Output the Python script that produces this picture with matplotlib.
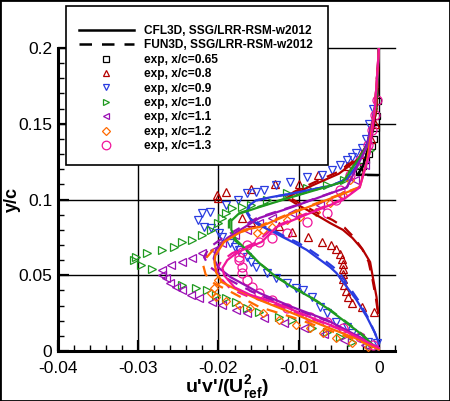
import matplotlib
matplotlib.use("Agg")
import matplotlib.pyplot as plt
from matplotlib.patches import Rectangle
from matplotlib.ticker import MultipleLocator
from matplotlib.lines import Line2D

plt.rcParams['font.family'] = ['Liberation Sans', 'DejaVu Sans']
plt.rcParams['mathtext.fontset'] = 'custom'
plt.rcParams['mathtext.rm'] = 'Liberation Sans:bold'
plt.rcParams['mathtext.bf'] = 'Liberation Sans:bold'

stations = ["0.65", "0.8", "0.9", "1.0", "1.1", "1.2", "1.3"]
colors = ["#000000", "#b40000", "#2a3ce0", "#1f9a1f", "#9a10b4", "#ff6a00", "#f0149a"]
markers = ["s", "^", "v", ">", "<", "D", "o"]

# ---- CFL3D (solid) ----
cfl_x_065 = [0, -0.0002, -0.0006, -0.0012, -0.0020, -0.0026, 0]
cfl_y_065 = [0.2, 0.17, 0.15, 0.135, 0.122, 0.1165, 0.1162]
cfl_x_08 = [0, -0.0003, -0.001, -0.0025, -0.005, -0.008, -0.0105, -0.0115, -0.0101, -0.0078, -0.0061,
            -0.0045, -0.0033, -0.002, -0.0011, -0.0007, -0.0003, -0.0001]
cfl_y_08 = [0.2, 0.16, 0.14, 0.127, 0.117, 0.110, 0.104, 0.101, 0.0964, 0.0898, 0.0845,
            0.080, 0.0746, 0.0667, 0.0587, 0.0469, 0.0356, 0.025]
cfl_x_09 = [0, -0.0003, -0.0008, -0.0016, -0.0028, -0.004, -0.006, -0.0085, -0.0108, -0.0135, -0.0153,
            -0.0162, -0.0165, -0.0160, -0.0149, -0.0133, -0.0120, -0.0106, -0.009, -0.0078, -0.0061,
            -0.0053, -0.004, -0.0028, -0.0015, -0.0005, 0]
cfl_y_09 = [0.2, 0.17, 0.15, 0.135, 0.122, 0.1135, 0.109, 0.1065, 0.104, 0.1015, 0.0995,
            0.096, 0.0915, 0.087, 0.083, 0.079, 0.0752, 0.0715, 0.0667, 0.062, 0.0554,
            0.0515, 0.0422, 0.0337, 0.0224, 0.0119, 0.005]
cfl_x_10 = [0, -0.0004, -0.0015, -0.0045, -0.0108, -0.0149, -0.0175, -0.0184, -0.0184, -0.0178,
            -0.0165, -0.0149, -0.0128, -0.0108, -0.0086, -0.0065, -0.0045, -0.0024, -0.0001]
cfl_y_10 = [0.2, 0.16, 0.135, 0.1116, 0.1017, 0.095, 0.0905, 0.086, 0.080, 0.0733,
            0.0667, 0.058, 0.0488, 0.0422, 0.0356, 0.0284, 0.0205, 0.0119, 0.001]
cfl_x_11 = [0, -0.0005, -0.0015, -0.004, -0.0108, -0.0149, -0.0189, -0.0203, -0.0206, -0.0200,
            -0.0185, -0.0149, -0.0108, -0.0065, -0.0024, -0.0001]
cfl_y_11 = [0.2, 0.16, 0.135, 0.108, 0.095, 0.0878, 0.0746, 0.067, 0.061, 0.055,
            0.0488, 0.0383, 0.029, 0.0205, 0.0092, 0.001]
cfl_x_12 = [0, -0.0005, -0.0015, -0.0024, -0.0065, -0.0108, -0.0149, -0.0168, -0.0193, -0.0204,
            -0.0205, -0.0203, -0.0196, -0.0183, -0.0149, -0.0108, -0.0065, -0.0024, 0]
cfl_y_12 = [0.2, 0.16, 0.125, 0.108, 0.0997, 0.091, 0.0818, 0.080, 0.072, 0.063,
            0.0587, 0.052, 0.0455, 0.042, 0.0337, 0.025, 0.0158, 0.0073, 0.001]
cfl_x_13 = [0, -0.0005, -0.0012, -0.0024, -0.0045, -0.0086, -0.0128, -0.0146, -0.0176, -0.0189,
            -0.0195, -0.0193, -0.018, -0.016, -0.013, -0.0086, -0.0045, 0]
cfl_y_13 = [0.2, 0.16, 0.13, 0.108, 0.0997, 0.091, 0.0818, 0.072, 0.0653, 0.060,
            0.0548, 0.050, 0.042, 0.037, 0.032, 0.0224, 0.0139, 0.002]

# ---- FUN3D (dashed) ----
fun_x_065 = [0, -0.0002, -0.0007, -0.0013, -0.0021, -0.0027, 0]
fun_y_065 = [0.2, 0.17, 0.15, 0.134, 0.121, 0.1162, 0.1160]
fun_x_08 = [0, -0.0003, -0.001, -0.0025, -0.0052, -0.0082, -0.0106, -0.0114, -0.0099, -0.0076, -0.0058,
            -0.0043, -0.0032, -0.0021, -0.0013, -0.0008, -0.0004, -0.0001]
fun_y_08 = [0.2, 0.16, 0.14, 0.128, 0.118, 0.111, 0.105, 0.102, 0.0975, 0.091, 0.0865,
            0.0815, 0.0755, 0.0675, 0.059, 0.047, 0.0355, 0.0245]
fun_x_09 = [0, -0.0003, -0.0008, -0.0016, -0.0028, -0.004, -0.006, -0.0085, -0.0108, -0.0134, -0.0152,
            -0.0161, -0.0164, -0.0158, -0.0146, -0.0129, -0.0116, -0.0101, -0.0086, -0.0073, -0.0057,
            -0.0049, -0.0037, -0.0026, -0.0014, -0.0005, 0]
fun_y_09 = [0.2, 0.17, 0.15, 0.135, 0.122, 0.1135, 0.109, 0.1065, 0.104, 0.1015, 0.0995,
            0.096, 0.0915, 0.087, 0.083, 0.079, 0.0752, 0.0715, 0.0667, 0.062, 0.0554,
            0.0515, 0.0422, 0.0337, 0.0224, 0.0119, 0.005]
fun_x_10 = [0, -0.0004, -0.0015, -0.0046, -0.011, -0.0151, -0.0177, -0.0187, -0.0187, -0.0180,
            -0.0166, -0.0149, -0.0127, -0.0107, -0.0085, -0.0064, -0.0044, -0.0023, -0.0001]
fun_y_10 = [0.2, 0.16, 0.135, 0.1116, 0.1017, 0.095, 0.0905, 0.086, 0.080, 0.0733,
            0.0667, 0.058, 0.0488, 0.0422, 0.0356, 0.0284, 0.0205, 0.0119, 0.001]
fun_x_11 = [0, -0.0005, -0.0015, -0.004, -0.011, -0.0152, -0.0195, -0.0212, -0.0218, -0.0212,
            -0.0194, -0.0152, -0.0108, -0.0064, -0.0023, -0.0001]
fun_y_11 = [0.2, 0.16, 0.135, 0.108, 0.095, 0.0878, 0.0746, 0.068, 0.062, 0.056,
            0.049, 0.0375, 0.0282, 0.0198, 0.0088, 0.001]
fun_x_12 = [0, -0.0005, -0.0015, -0.0025, -0.0067, -0.011, -0.0152, -0.0175, -0.0203, -0.0216,
            -0.0219, -0.0216, -0.0205, -0.0188, -0.0149, -0.0106, -0.0063, -0.0023, 0]
fun_y_12 = [0.2, 0.16, 0.125, 0.108, 0.0997, 0.091, 0.0818, 0.078, 0.069, 0.061,
            0.0565, 0.0505, 0.0445, 0.040, 0.029, 0.022, 0.0138, 0.0063, 0.001]
fun_x_13 = [0, -0.0005, -0.0012, -0.0025, -0.0047, -0.0089, -0.0131, -0.0152, -0.0183, -0.0197,
            -0.0202, -0.0199, -0.0185, -0.0163, -0.0131, -0.0086, -0.0044, 0]
fun_y_13 = [0.2, 0.16, 0.13, 0.108, 0.0997, 0.091, 0.0818, 0.072, 0.0645, 0.059,
            0.0538, 0.049, 0.041, 0.036, 0.031, 0.0218, 0.0134, 0.002]

# ---- experiments ----
exp_x_065 = [-0.0025, -0.002, -0.0016, -0.0012, -0.0009, -0.0006, -0.0004, -0.0002, -0.0001]
exp_y_065 = [0.118, 0.122, 0.126, 0.13, 0.135, 0.14, 0.147, 0.155, 0.165]
exp_x_08 = [-0.0005, -0.001, -0.002, -0.004, -0.0076, -0.010, -0.013, -0.016, -0.019, -0.0202, -0.0201,
            -0.0171, -0.0159, -0.0124, -0.0108, -0.0089, -0.0071, -0.006, -0.0053, -0.0048, -0.0046,
            -0.0045, -0.0045, -0.0045, -0.0045, -0.0044, -0.0041, -0.0038, -0.0033, -0.0021, -0.0006]
exp_y_08 = [0.15, 0.14, 0.13, 0.122, 0.116, 0.110, 0.110, 0.107, 0.105, 0.103, 0.101,
            0.088, 0.085, 0.0825, 0.0785, 0.0752, 0.072, 0.070, 0.0673, 0.064, 0.0607,
            0.0574, 0.054, 0.0508, 0.0475, 0.0436, 0.0396, 0.0356, 0.0317, 0.029, 0.0257]
exp_x_09 = [-0.0008, -0.0012, -0.0016, -0.0021, -0.0028, -0.0034, -0.004, -0.0049, -0.0059, -0.0071,
            -0.009, -0.0111, -0.0128, -0.0143, -0.0153, -0.0165, -0.0176, -0.019, -0.0211, -0.0221,
            -0.0226, -0.0218, -0.0209, -0.0199, -0.0195, -0.0186, -0.018, -0.0174, -0.0165, -0.0159,
            -0.0153, -0.014, -0.0128, -0.0115, -0.0103, -0.0095, -0.0083, -0.0074, -0.0065, -0.0053,
            -0.004, -0.0033, -0.0024, -0.0014, -0.0003]
exp_y_09 = [0.16, 0.15, 0.14, 0.134, 0.1307, 0.128, 0.126, 0.1228, 0.1195, 0.1162,
            0.1149, 0.1116, 0.1096, 0.1063, 0.105, 0.1043, 0.0997, 0.0964, 0.0917, 0.0911,
            0.0865, 0.0818, 0.0812, 0.0779, 0.0752, 0.0713, 0.0686, 0.0667, 0.062, 0.0587,
            0.0554, 0.0515, 0.0482, 0.0449, 0.0416, 0.0403, 0.0356, 0.029, 0.0251, 0.0191,
            0.0158, 0.0119, 0.0086, 0.0059, 0.0053]
exp_x_10 = [-0.0011, -0.0024, -0.0043, -0.0065, -0.009, -0.0115, -0.014, -0.0159, -0.0171, -0.0183,
            -0.019, -0.0196, -0.0201, -0.0209, -0.022, -0.0233, -0.0245, -0.0255, -0.027, -0.0289,
            -0.0303, -0.0305, -0.0296, -0.0283, -0.0246, -0.0228, -0.0214, -0.0203, -0.019, -0.0178,
            -0.0165, -0.0149, -0.0124, -0.0108, -0.0083, -0.0065, -0.0049, -0.0033, -0.0011]
exp_y_10 = [0.133, 0.123, 0.113, 0.1096, 0.1076, 0.1043, 0.0997, 0.0964, 0.095, 0.0944,
            0.0911, 0.0878, 0.0845, 0.0799, 0.0766, 0.0733, 0.072, 0.0686, 0.0667, 0.0647,
            0.062, 0.0601, 0.0568, 0.0541, 0.0436, 0.0416, 0.0403, 0.037, 0.035, 0.0323,
            0.0284, 0.0257, 0.0224, 0.0205, 0.0152, 0.0125, 0.0092, 0.0059, 0.004]
exp_x_11 = [-0.0018, -0.003, -0.0049, -0.0074, -0.0108, -0.0133, -0.0149, -0.0165, -0.018, -0.0195,
            -0.0205, -0.022, -0.0233, -0.0246, -0.0259, -0.0271, -0.027, -0.0265, -0.0261, -0.0253,
            -0.0245, -0.0234, -0.0224, -0.0208, -0.0195, -0.0178, -0.0165, -0.0143, -0.0118, -0.0093,
            -0.0068, -0.0043, -0.0018]
exp_y_11 = [0.123, 0.113, 0.103, 0.0964, 0.091, 0.0878, 0.0845, 0.0799, 0.0766, 0.0713,
            0.0667, 0.0647, 0.0614, 0.0587, 0.0568, 0.0535, 0.0502, 0.0482, 0.0449, 0.0422,
            0.0403, 0.037, 0.035, 0.0323, 0.0304, 0.0271, 0.0251, 0.0218, 0.0185, 0.0152,
            0.0112, 0.0073, 0.004]
exp_x_12 = [-0.0036, -0.0045, -0.0061, -0.0078, -0.0099, -0.0115, -0.0133, -0.0145, -0.0152, -0.0201,
            -0.0205, -0.0209, -0.0203, -0.019, -0.0174, -0.0161, -0.0145, -0.0124, -0.0103, -0.0086,
            -0.007, -0.0053, -0.0033, -0.0014]
exp_y_12 = [0.113, 0.103, 0.0977, 0.0917, 0.0884, 0.0865, 0.0818, 0.080, 0.0779, 0.047,
            0.0416, 0.0383, 0.0356, 0.033, 0.0304, 0.0284, 0.0251, 0.0205, 0.0172, 0.0152,
            0.0119, 0.0086, 0.0053, 0.0026]
exp_x_13 = [-0.0003, -0.0005, -0.0009, -0.0014, -0.0024, -0.0036, -0.0049, -0.0053, -0.0065, -0.009,
            -0.0115, -0.0133, -0.0149, -0.0165, -0.0171, -0.0174, -0.0174, -0.0171, -0.0171, -0.0165,
            -0.0158, -0.0149, -0.0133, -0.0115, -0.0086, -0.0065, -0.0045, -0.0024, -0.0008]
exp_y_13 = [0.166, 0.156, 0.146, 0.136, 0.126, 0.116, 0.106, 0.0997, 0.091, 0.085,
            0.078, 0.0745, 0.072, 0.070, 0.0653, 0.062, 0.060, 0.0554, 0.0515, 0.0469,
            0.0422, 0.0383, 0.0337, 0.0284, 0.0224, 0.0191, 0.0152, 0.0092, 0.004]

cfl = [(cfl_x_065, cfl_y_065), (cfl_x_08, cfl_y_08), (cfl_x_09, cfl_y_09), (cfl_x_10, cfl_y_10),
       (cfl_x_11, cfl_y_11), (cfl_x_12, cfl_y_12), (cfl_x_13, cfl_y_13)]
fun = [(fun_x_065, fun_y_065), (fun_x_08, fun_y_08), (fun_x_09, fun_y_09), (fun_x_10, fun_y_10),
       (fun_x_11, fun_y_11), (fun_x_12, fun_y_12), (fun_x_13, fun_y_13)]
exp = [(exp_x_065, exp_y_065), (exp_x_08, exp_y_08), (exp_x_09, exp_y_09), (exp_x_10, exp_y_10),
       (exp_x_11, exp_y_11), (exp_x_12, exp_y_12), (exp_x_13, exp_y_13)]

fig = plt.figure(figsize=(4.5, 4.01), dpi=100)
ax = fig.add_axes([58/450, 50/401, (395-58)/450, (351-48)/401])
ax.set_xlim(-0.04, 0.002)
ax.set_ylim(0, 0.2)

# grid lines at major tick positions
for gx in [-0.03, -0.02, -0.01, 0]:
    ax.axvline(gx, color='k', lw=1.0, zorder=1)
for gy in [0.05, 0.1, 0.15, 0.2]:
    ax.axhline(gy, color='k', lw=1.0, zorder=1, clip_on=False)

msizes = [4.0, 5.2, 5.2, 5.2, 5.2, 4.4, 6.5]
for i in range(7):
    ex, ey = exp[i]
    ax.plot(ex, ey, linestyle='none', marker=markers[i], ms=msizes[i], mfc='none',
            mec=colors[i], mew=0.9, zorder=3)
for i in range(7):
    fx, fy = fun[i]
    ax.plot(fx, fy, color=colors[i], lw=1.6, ls=(0, (5, 4)), zorder=4)
    cx, cy = cfl[i]
    ax.plot(cx, cy, color=colors[i], lw=1.6, zorder=5)

for s in ['top', 'right']:
    ax.spines[s].set_visible(False)
for s in ['left', 'bottom']:
    ax.spines[s].set_linewidth(2.2)
ax.xaxis.set_major_locator(MultipleLocator(0.01))
ax.xaxis.set_minor_locator(MultipleLocator(0.002))
ax.yaxis.set_major_locator(MultipleLocator(0.05))
ax.yaxis.set_minor_locator(MultipleLocator(0.01))
ax.tick_params(which='both', direction='in', top=False, right=False, labelsize=12.5)
ax.tick_params(which='major', length=8, width=1.6)
ax.tick_params(which='minor', length=4, width=1.0)
ax.set_xticks([-0.04, -0.03, -0.02, -0.01, 0])
ax.set_xticklabels(['-0.04', '-0.03', '-0.02', '-0.01', '0'])
ax.set_yticks([0, 0.05, 0.1, 0.15, 0.2])
ax.set_yticklabels(['0', '0.05', '0.1', '0.15', '0.2'])
ax.tick_params(axis='x', pad=7)
ax.tick_params(axis='y', pad=4)

ax.set_ylabel('y/c', fontsize=13, fontweight='bold')
ax.yaxis.set_label_coords(-0.11, 0.5)
ax.set_xlabel(r"u'v'/(U$_{\mathrm{ref}}^{\mathrm{2}}$)", fontsize=14, fontweight='bold', labelpad=-1)

# legend
handles = [Line2D([], [], color='k', lw=1.8),
           Line2D([], [], color='k', lw=1.8, ls=(0, (5, 4)))]
labels = ["CFL3D, SSG/LRR-RSM-w2012", "FUN3D, SSG/LRR-RSM-w2012"]
for i in range(7):
    handles.append(Line2D([], [], linestyle='none', marker=markers[i], ms=msizes[i] * 0.95,
                          mfc='none', mec=colors[i], mew=0.9))
    labels.append("exp, x/c=" + stations[i])

box = Rectangle((66/450, 1 - 165/401), (328-66)/450, (165-6)/401, transform=fig.transFigure,
                facecolor='white', edgecolor='black', lw=1.2, zorder=4)
fig.patches.append(box)
leg = fig.legend(handles, labels, loc='upper left', bbox_to_anchor=(79/450, 1 - 25/401),
                 frameon=False, handlelength=4.6, handletextpad=0.8,
                 labelspacing=0.2, borderpad=0, borderaxespad=0, numpoints=1,
                 prop={'weight': 'bold', 'size': 8.6})
leg.set_zorder(5)

frame = Rectangle((0, 0), 1, 1, transform=fig.transFigure, fill=False, edgecolor='black', lw=2,
                  zorder=10)
fig.patches.append(frame)

fig.savefig("out.png", dpi=100)
